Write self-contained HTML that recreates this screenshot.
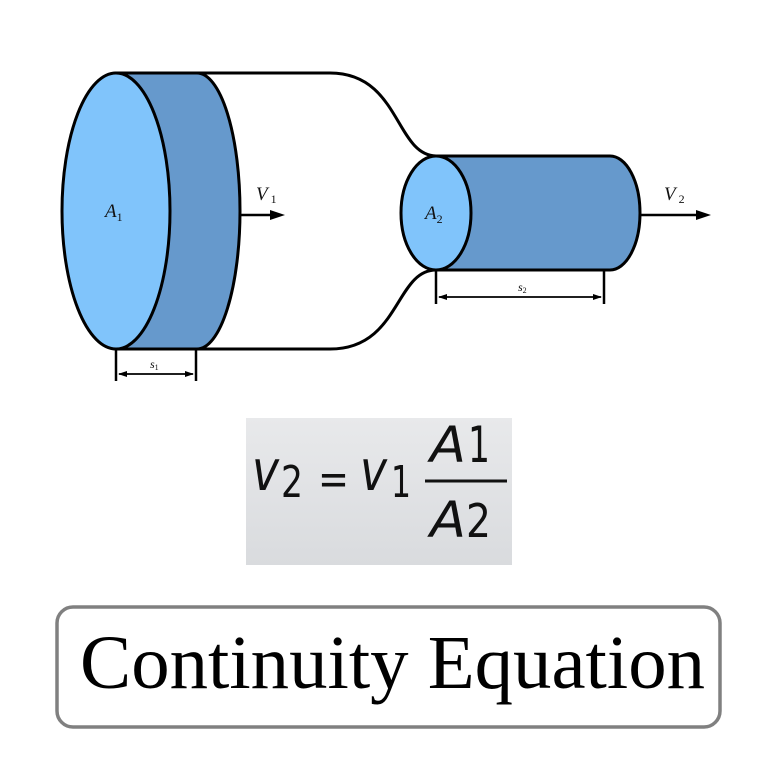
<!DOCTYPE html>
<html><head><style>html,body{margin:0;padding:0;background:#fff;}svg{display:block}</style></head>
<body>
<svg width="784" height="774" viewBox="0 0 784 774" xmlns="http://www.w3.org/2000/svg">
<defs>
<linearGradient id="g" x1="0" y1="0" x2="0" y2="1">
<stop offset="0" stop-color="#e8e9eb"/><stop offset="1" stop-color="#d9dbde"/>
</linearGradient>
</defs>
<rect width="784" height="774" fill="#fff"/>
<path d="M197 73 L330 73 C400 73 395 155 436 156" fill="none" stroke="#000" stroke-width="3"/>
<path d="M197 349 L330 349 C400 349 395 270 436 270" fill="none" stroke="#000" stroke-width="3"/>
<path d="M116 73 L197 73 A43 138 0 0 1 197 349 L116 349 Z" fill="#6699cc" stroke="#000" stroke-width="3"/>
<ellipse cx="116" cy="211" rx="54" ry="138" fill="#80c4fb" stroke="#000" stroke-width="3"/>
<path d="M436 156 L610 156 A30 57 0 0 1 610 270 L436 270 Z" fill="#6699cc" stroke="#000" stroke-width="3"/>
<ellipse cx="436" cy="213" rx="35" ry="57" fill="#80c4fb" stroke="#000" stroke-width="3"/>
<line x1="240" y1="215" x2="272" y2="215" stroke="#000" stroke-width="2.5"/>
<polygon points="285,215 270,210 270,220" fill="#000"/>
<line x1="640" y1="215" x2="698" y2="215" stroke="#000" stroke-width="2.5"/>
<polygon points="711,215 696,210 696,220" fill="#000"/>
<g stroke="#000" stroke-width="2.5">
<line x1="116" y1="349" x2="116" y2="381"/><line x1="196" y1="349" x2="196" y2="381"/>
<line x1="119" y1="374" x2="193" y2="374" stroke-width="1.8"/>
<line x1="436" y1="270" x2="436" y2="304"/><line x1="604" y1="270" x2="604" y2="304"/>
<line x1="439" y1="297" x2="601" y2="297" stroke-width="1.8"/>
</g>
<polygon points="118,374 127,371 127,377" fill="#000"/><polygon points="194,374 185,371 185,377" fill="#000"/>
<polygon points="438,297 447,294 447,300" fill="#000"/><polygon points="602,297 593,294 593,300" fill="#000"/>
<g font-family="Liberation Serif, serif" font-style="italic" fill="#111">
<text x="105" y="217" font-size="19">A<tspan font-size="12" font-style="normal" dy="4">1</tspan></text>
<text x="425" y="219" font-size="19">A<tspan font-size="12" font-style="normal" dy="4">2</tspan></text>
<text x="256" y="200" font-size="19">V<tspan font-size="12" font-style="normal" dx="3" dy="3">1</tspan></text>
<text x="664" y="200" font-size="19">V<tspan font-size="12" font-style="normal" dx="3" dy="3">2</tspan></text>
<text x="150" y="368" font-size="12">s<tspan font-size="8" font-style="normal" dy="2">1</tspan></text>
<text x="518" y="291" font-size="12">s<tspan font-size="8" font-style="normal" dy="2">2</tspan></text>
</g>
<rect x="246" y="418" width="266" height="147" fill="url(#g)"/>
<g font-family="DejaVu Sans, sans-serif" fill="#111">
<text x="252" y="490" font-size="56" font-style="italic" textLength="27" lengthAdjust="spacingAndGlyphs">v</text>
<text x="281" y="497" font-size="44" textLength="22" lengthAdjust="spacingAndGlyphs">2</text>
<text x="318" y="494" font-size="44" textLength="31" lengthAdjust="spacingAndGlyphs">=</text>
<text x="360" y="490" font-size="56" font-style="italic" textLength="27" lengthAdjust="spacingAndGlyphs">v</text>
<text x="391" y="497" font-size="44" textLength="20" lengthAdjust="spacingAndGlyphs">1</text>
<text x="430" y="462" font-size="50" font-style="italic" textLength="36" lengthAdjust="spacingAndGlyphs">A</text>
<text x="468" y="462" font-size="50" textLength="22" lengthAdjust="spacingAndGlyphs">1</text>
<text x="430" y="537" font-size="50" font-style="italic" textLength="36" lengthAdjust="spacingAndGlyphs">A</text>
<text x="466" y="537" font-size="46" textLength="25" lengthAdjust="spacingAndGlyphs">2</text>
</g>
<line x1="425" y1="481" x2="507" y2="481" stroke="#111" stroke-width="3"/>
<rect x="57" y="607" width="663" height="120" rx="16" fill="#fff" stroke="#808080" stroke-width="3.5"/>
<text x="80" y="688" font-family="Liberation Serif, serif" font-size="76" fill="#000" textLength="625" lengthAdjust="spacingAndGlyphs">Continuity Equation</text>
</svg>
</body></html>
